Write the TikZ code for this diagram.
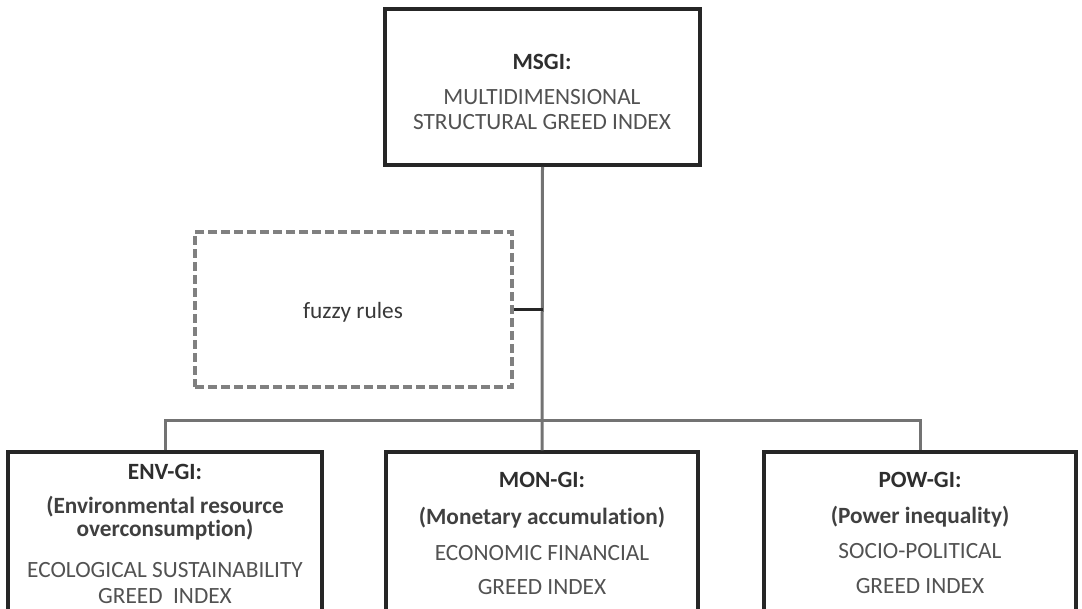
\documentclass[tikz,border=0pt]{standalone}
\usepackage{fontspec}
\setmainfont{Carlito}[Ligatures={NoCommon}]
\begin{document}
\begin{tikzpicture}[x=1pt,y=-1pt,
 box/.style={draw=black!85, line width=3.5pt, fill=white, inner sep=0pt},
 fuzzybox/.style={draw=black!50, line width=3.5pt, dash pattern=on 9pt off 4pt, inner sep=0pt},
 link/.style={draw=black!55, line width=3pt},
 tie/.style={draw=black!85, line width=3pt},
 ttl/.style={font=\fontsize{23.3}{25}\selectfont\bfseries, text=black!82, inner sep=0pt},
 sub/.style={font=\fontsize{23.3}{25}\selectfont\bfseries, text=black!75, inner sep=0pt},
 capt/.style={font=\fontsize{23.3}{25}\selectfont, text=black!68, inner sep=0pt}]
\useasboundingbox (0,0) rectangle (1082,608);
\clip (0,0) rectangle (1082,608);
% boxes
\node[box, minimum width=315, minimum height=156] (top) at (542.5,87) {};
\node[fuzzybox, minimum width=317, minimum height=155] (fuzzy) at (353.5,309.5) {};
\node[box, minimum width=314, minimum height=178] (env) at (165,541) {};
\node[box, minimum width=312, minimum height=178] (mon) at (542,541) {};
\node[box, minimum width=312, minimum height=178] (pow) at (920,541) {};
\coordinate (bar) at (542,420);
% connectors
\draw[link] (top.south) -- (mon.north);
\draw[link] (env.north) -- (env.north |- bar) -- (pow.north |- bar) -- (pow.north);
\draw[tie] (fuzzy.east) -- (fuzzy.east -| top.south);
% texts
\node[ttl] (t1) at (542,62) {MSGI:};
\node[capt] (t2) at (542,97) {MULTIDIMENSIONAL};
\node[capt] (t3) at (542,122) {STRUCTURAL GREED INDEX};
\node[capt, text=black!78] (f1) at (353,312) {fuzzy rules};
\node[ttl] (e1) at (165,472) {ENV-GI:};
\node[sub] (e2) at (165,507) {(Environmental resource};
\node[sub] (e3) at (165,530) {overconsumption)};
\node[capt] (e4) at (165,570) {ECOLOGICAL SUSTAINABILITY};
\node[capt] (e5) at (165,596) {GREED\ \ INDEX};
\node[ttl] (m1) at (542,480) {MON-GI:};
\node[sub] (m2) at (542,518) {(Monetary accumulation)};
\node[capt] (m3) at (542,553) {ECONOMIC FINANCIAL};
\node[capt] (m4) at (542,587) {GREED INDEX};
\node[ttl] (p1) at (920,480) {POW-GI:};
\node[sub] (p2) at (920,517) {(Power inequality)};
\node[capt] (p3) at (920,551) {SOCIO-POLITICAL};
\node[capt] (p4) at (920,586) {GREED INDEX};
\end{tikzpicture}
\end{document}
